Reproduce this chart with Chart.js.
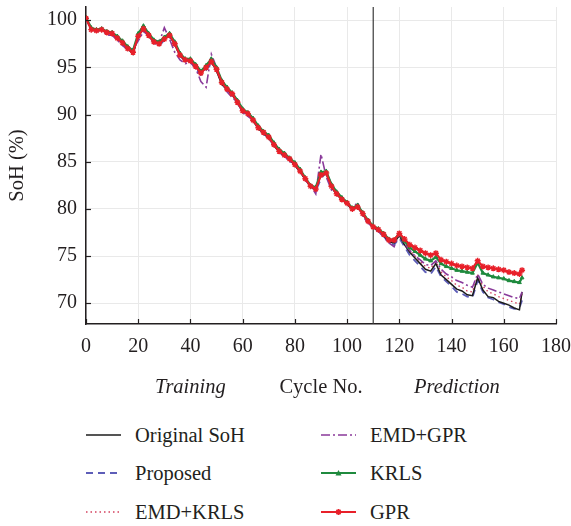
<!DOCTYPE html>
<html>
<head>
<meta charset="utf-8">
<title>SoH prediction</title>
<style>
  body { margin: 0; background: #fff; }
  #wrap { position: relative; width: 571px; height: 526px; font-family: "Liberation Serif", serif; color: #231f20; }
  #chart { position: absolute; left: 0; top: 0; }
  .key { position: absolute; height: 24px; width: 220px; font-size: 20.5px; white-space: nowrap; }
  .key svg { position: absolute; left: 0; top: 6px; }
  .key span { position: absolute; left: 49px; top: 0; line-height: 24px; }
</style>
</head>
<body>
<div id="wrap">
  <canvas id="chart" width="571" height="400"></canvas>
  <div id="legend"></div>
</div>
<script src="https://cdn.jsdelivr.net/npm/chart.js@4.4.1/dist/chart.umd.min.js"></script>
<script>
// cycle numbers (every 2nd cycle, plus the last one)
const cycles = Array.from({length: 84}, (_, i) => i * 2).concat([167]);
const splitCycle = 110;
const xTicks = [0, 20, 40, 60, 80, 100, 120, 140, 160, 180];
const yTicks = [70, 75, 80, 85, 90, 95, 100];

const original = [
  100.2, 99.0, 98.9, 99.0, 98.6, 98.6, 98.1, 97.6, 97.0, 96.4,
  98.3, 99.1, 98.3, 97.7, 97.5, 98.0, 98.4, 97.4, 96.2, 95.7,
  95.7, 95.0, 94.4, 95.0, 95.6, 94.6, 93.2, 92.6, 92.1, 91.2,
  90.3, 90.0, 89.3, 88.5, 88.0, 87.5, 86.7, 86.0, 85.6, 85.2,
  84.6, 83.9, 83.1, 82.3, 82.1, 83.6, 83.7, 82.3, 81.5, 81.0,
  80.5, 79.9, 80.2, 79.4, 78.6, 78.0, 77.7, 77.2, 76.5, 76.4,
  77.2, 76.2, 75.4, 74.8, 74.2, 73.6, 73.4, 74.2, 73.0, 72.5,
  72.0, 71.5, 71.3, 70.9, 70.8, 72.7, 71.4, 70.7, 70.6, 70.2,
  70.0, 69.8, 69.5, 69.3, 71.2
];
const proposed = [
  100.1, 99.1, 98.8, 98.9, 98.7, 98.5, 98.0, 97.5, 96.8, 96.7,
  98.1, 98.9, 98.4, 97.6, 97.3, 97.9, 98.2, 97.6, 96.4, 95.6,
  95.8, 94.8, 94.2, 94.7, 95.4, 94.9, 93.4, 92.8, 92.3, 91.4,
  90.5, 90.2, 89.5, 88.7, 87.9, 87.6, 86.9, 86.1, 85.5, 85.3,
  84.7, 84.0, 83.2, 82.4, 81.9, 83.2, 83.9, 82.6, 81.7, 81.1,
  80.6, 80.0, 80.1, 79.6, 78.7, 78.1, 77.6, 77.1, 76.4, 76.2,
  76.9, 76.0, 75.1, 74.5, 73.9, 73.3, 73.1, 73.9, 72.8, 72.3,
  71.8, 71.2, 71.0, 70.7, 70.6, 72.4, 71.2, 70.6, 70.4, 70.1,
  69.9, 69.6, 69.4, 69.5, 70.3
];
const emdKrls = [
  100.2, 99.0, 98.9, 98.9, 98.6, 98.5, 98.1, 97.5, 96.9, 96.5,
  98.3, 99.0, 98.3, 97.6, 97.4, 98.0, 98.3, 97.4, 96.2, 95.7,
  95.6, 95.0, 94.3, 95.0, 95.5, 94.6, 93.3, 92.6, 92.1, 91.3,
  90.4, 90.0, 89.3, 88.6, 88.0, 87.5, 86.8, 86.0, 85.6, 85.2,
  84.6, 83.9, 83.1, 82.3, 82.1, 83.5, 83.7, 82.3, 81.5, 81.0,
  80.5, 79.9, 80.2, 79.4, 78.6, 78.0, 77.7, 77.2, 76.6, 76.5,
  77.1, 76.3, 75.6, 75.0, 74.4, 73.9, 73.7, 74.4, 73.3, 72.8,
  72.4, 71.9, 71.7, 71.3, 71.2, 72.9, 71.8, 71.2, 71.0, 70.7,
  70.5, 70.3, 70.1, 69.9, 71.0
];
const emdGpr = [
  100.3, 98.9, 98.8, 99.0, 98.4, 98.4, 97.9, 97.3, 96.9, 96.9,
  97.8, 98.8, 98.4, 97.5, 97.6, 99.2, 98.0, 96.6, 95.8, 95.4,
  95.5, 94.9, 93.5, 92.9, 96.4, 95.0, 93.5, 92.4, 91.8, 91.3,
  90.2, 89.8, 89.4, 88.6, 88.1, 87.4, 86.8, 86.1, 85.6, 85.0,
  84.8, 84.0, 83.0, 82.5, 81.6, 85.8, 83.4, 82.0, 81.7, 81.1,
  80.6, 80.0, 80.7, 79.2, 78.5, 78.0, 77.6, 77.0, 76.4, 76.0,
  77.4, 76.3, 75.6, 75.0, 74.6, 74.1, 74.0, 74.5, 73.6, 73.1,
  72.8, 72.4, 72.2, 71.9, 71.7, 73.1, 72.0, 71.6, 71.4, 71.2,
  71.0, 70.8, 70.6, 70.5, 71.2
];
const krls = [
  100.3, 99.2, 99.0, 99.1, 98.8, 98.7, 98.3, 97.8, 97.2, 96.8,
  98.6, 99.4, 98.6, 97.9, 97.7, 98.2, 98.6, 97.7, 96.5, 95.9,
  95.9, 95.3, 94.6, 95.2, 95.9, 95.0, 93.6, 92.9, 92.3, 91.5,
  90.6, 90.2, 89.6, 88.8, 88.2, 87.8, 87.0, 86.3, 85.9, 85.4,
  84.9, 84.2, 83.3, 82.5, 82.3, 83.9, 84.0, 82.6, 81.8, 81.2,
  80.7, 80.1, 80.4, 79.6, 78.8, 78.2, 77.9, 77.4, 76.8, 76.7,
  77.4, 76.6, 75.9, 75.5, 75.1, 74.7, 74.5, 74.9, 74.2, 73.9,
  73.7, 73.5, 73.4, 73.3, 73.2, 74.3, 73.2, 73.0, 72.8, 72.7,
  72.6, 72.4, 72.3, 72.2, 72.7
];
const gpr = [
  100.2, 99.0, 98.9, 99.0, 98.7, 98.6, 98.1, 97.6, 97.0, 96.6,
  98.3, 99.1, 98.4, 97.7, 97.5, 98.0, 98.4, 97.5, 96.3, 95.8,
  95.7, 95.1, 94.4, 95.0, 95.6, 94.8, 93.4, 92.7, 92.2, 91.3,
  90.4, 90.1, 89.4, 88.6, 88.1, 87.6, 86.8, 86.1, 85.7, 85.3,
  84.7, 84.0, 83.2, 82.4, 82.1, 83.6, 83.8, 82.4, 81.6, 81.0,
  80.6, 80.0, 80.2, 79.5, 78.7, 78.1, 77.8, 77.3, 76.7, 76.7,
  77.4, 76.8, 76.2, 75.9, 75.6, 75.3, 75.1, 75.3, 74.6, 74.4,
  74.2, 74.0, 73.9, 73.8, 73.7, 74.5, 73.9, 73.8, 73.7, 73.6,
  73.5, 73.3, 73.2, 73.1, 73.5
];

const ink = '#231f20';
const serif = '"Liberation Serif", "Times New Roman", serif';

// name, values, colour, dash, marker, legend column/row
const series = [
  {name: 'Original SoH', data: original, color: '#1c1c1c', width: 1.5, dash: [], marker: false, order: 3, col: 0, row: 0},
  {name: 'Proposed', data: proposed, color: '#5d5db8', width: 1.8, dash: [7, 5], marker: false, order: 4, col: 0, row: 1},
  {name: 'EMD+KRLS', data: emdKrls, color: '#d4405e', width: 1.4, dash: [1.5, 3], marker: false, order: 5, col: 0, row: 2},
  {name: 'EMD+GPR', data: emdGpr, color: '#8a3a9a', width: 1.6, dash: [9, 3, 2, 3], marker: false, order: 2, col: 1, row: 0},
  {name: 'KRLS', data: krls, color: '#1f8a3e', width: 2.2, dash: [], marker: 'triangle', order: 1, col: 1, row: 1},
  {name: 'GPR', data: gpr, color: '#e8202a', width: 2.2, dash: [], marker: 'star', order: 0, col: 1, row: 2}
];

const datasets = series.map(s => ({
  label: s.name,
  data: s.data.map((v, i) => ({x: cycles[i], y: v})),
  borderColor: s.color,
  backgroundColor: s.color,
  borderWidth: s.width,
  borderDash: s.dash,
  pointStyle: s.marker || 'circle',
  pointRadius: s.marker ? (s.marker === 'star' ? 3 : 2.2) : 0,
  pointBorderWidth: s.marker === 'star' ? 1.4 : 1,
  order: s.order
}));

datasets.push({
  label: 'split',
  data: [{x: splitCycle, y: 67.8}, {x: splitCycle, y: 101.4}],
  borderColor: '#3a3a3a',
  borderWidth: 1.2,
  pointRadius: 0,
  order: 6
});

// inward tick marks and the axis captions
const axisText = {
  id: 'axisText',
  afterDraw(chart) {
    const {ctx, chartArea, scales} = chart;
    const x = scales.x, y = scales.y;
    ctx.save();
    ctx.strokeStyle = ink;
    ctx.lineWidth = 1.2;
    x.ticks.forEach(t => {
      const px = Math.round(x.getPixelForValue(t.value)) + 0.5;
      ctx.beginPath(); ctx.moveTo(px, chartArea.bottom); ctx.lineTo(px, chartArea.bottom - 5); ctx.stroke();
    });
    y.ticks.forEach(t => {
      const py = Math.round(y.getPixelForValue(t.value)) + 0.5;
      ctx.beginPath(); ctx.moveTo(chartArea.left, py); ctx.lineTo(chartArea.left + 5, py); ctx.stroke();
    });
    ctx.fillStyle = ink;
    ctx.textAlign = 'center';
    ctx.textBaseline = 'middle';
    const ty = chartArea.bottom + 64;
    ctx.font = 'italic 20.5px ' + serif;
    ctx.fillText('Training', x.getPixelForValue(40), ty);
    ctx.fillText('Prediction', x.getPixelForValue(142), ty);
    ctx.font = '20.5px ' + serif;
    ctx.fillText('Cycle No.', x.getPixelForValue(90), ty);
    ctx.translate(18, (chartArea.top + chartArea.bottom) / 2);
    ctx.rotate(-Math.PI / 2);
    ctx.fillText('SoH (%)', 0, 0);
    ctx.restore();
  }
};

new Chart(document.getElementById('chart'), {
  type: 'line',
  data: {datasets: datasets},
  options: {
    responsive: false,
    animation: false,
    layout: {padding: {top: 7, right: 15, left: 0, bottom: 0}},
    elements: {line: {tension: 0}},
    plugins: {legend: {display: false}, tooltip: {enabled: false}},
    scales: {
      x: {
        type: 'linear', min: 0, max: 180,
        afterBuildTicks: s => { s.ticks = xTicks.map(v => ({value: v})); },
        afterFit: s => { s.height = 76; s.paddingLeft = 0; s.paddingRight = 0; },
        ticks: {color: ink, font: {family: serif, size: 20}, padding: 11, maxRotation: 0},
        grid: {color: '#e9e9e9', lineWidth: 1, drawTicks: false},
        border: {color: ink, width: 1.5}
      },
      y: {
        type: 'linear', min: 67.8, max: 101.4,
        afterBuildTicks: s => { s.ticks = yTicks.map(v => ({value: v})); },
        afterFit: s => { s.width = 86; s.paddingTop = 0; s.paddingBottom = 0; },
        ticks: {color: ink, font: {family: serif, size: 20}, padding: 9},
        grid: {color: '#e9e9e9', lineWidth: 1, drawTicks: false},
        border: {color: ink, width: 1.5}
      }
    }
  },
  plugins: [axisText]
});

// legend, two columns of three
const legend = document.getElementById('legend');
const colX = [86, 321];
const rowY = [435, 473, 512];
series.forEach(s => {
  const div = document.createElement('div');
  div.className = 'key';
  div.style.left = colX[s.col] + 'px';
  div.style.top = (rowY[s.row] - 12) + 'px';
  let mark = '';
  if (s.marker === 'triangle') mark = '<polygon points="17.5,3 20.5,8.5 14.5,8.5" fill="' + s.color + '"/>';
  if (s.marker === 'star') mark = '<path d="M14.5,6 h6 M17.5,3 v6 M15.4,3.9 l4.2,4.2 M19.6,3.9 l-4.2,4.2" stroke="' + s.color + '" stroke-width="1.6"/>';
  div.innerHTML = '<svg width="36" height="12"><line x1="0" y1="6" x2="35" y2="6" stroke="' + s.color +
    '" stroke-width="' + Math.min(s.width, 2) + '" stroke-dasharray="' + (s.dash.length ? s.dash.join(',') : 'none') + '"/>' + mark +
    '</svg><span>' + s.name + '</span>';
  legend.appendChild(div);
});
</script>
</body>
</html>
